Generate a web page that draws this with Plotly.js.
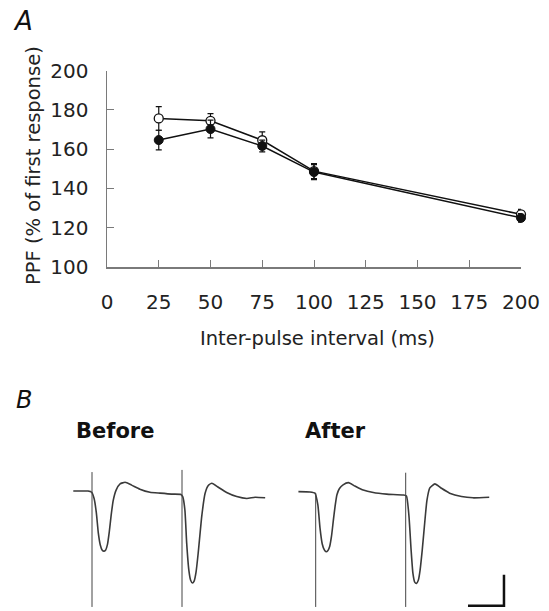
<!DOCTYPE html>
<html>
<head>
<meta charset="utf-8">
<script src="https://cdn.plot.ly/plotly-3.0.1.min.js"></script>
<style>
html,body{margin:0;padding:0;background:#fff;}
#chart{width:549px;height:611px;}
</style>
</head>
<body>
<div id="chart"></div>
<script>
// ---------- Panel A data ----------
const intervals = [25, 50, 75, 100, 200];            // inter-pulse interval (ms)
const openPPF   = [175.6, 174.4, 164.5, 148.8, 126.8]; // open circles (% of first response)
const openErr   = [6.0, 3.7, 4.3, 3.8, 2.5];
const filledPPF = [164.6, 170.2, 161.6, 148.3, 125.0]; // filled circles
const filledErr = [5.0, 4.5, 3.0, 3.8, 2.2];
const xTicks = [0, 25, 50, 75, 100, 125, 150, 175, 200];
const yTicks = [100, 120, 140, 160, 180, 200];

// ---------- Panel B data (time in ms from first stimulus, current in pA) ----------
const beforeT = [-5.2,-3.3,-1.1,-0.1,0.6,1.2,1.75,2.3,2.8,3.3,3.8,4.3,4.8,5.3,5.9,6.7,7.8,9.2,11.0,13.3,16.1,18.9,22.1,24.7,25.2,25.8,26.3,26.9,27.4,27.9,28.4,28.9,29.5,30.5,31.4,32.3,33.3,35.1,37.4,40.2,43.0,45.3,48.1];
const beforeI = [0,0,0,-4,-25,-70,-135,-174,-190,-194,-190,-172,-132,-80,-30,3,23,28,19,6,-4,-7,-10,-11,-18,-61,-168,-255,-288,-297,-290,-262,-200,-80,-8,18,25,12,-5,-18,-24,-20,-22];
const afterT  = [-4.8,-1.6,-0.2,0.6,1.2,1.8,2.4,2.9,3.4,3.9,4.4,4.9,5.4,5.9,6.6,7.6,9.1,10.9,13.2,16.0,19.7,24.3,25.2,25.9,26.5,27.0,27.5,28.0,28.5,29.0,29.6,30.3,30.9,31.7,33.1,34.9,37.2,40.5,43.7,48.2];
const afterI  = [-2,-3,-7,-45,-120,-170,-190,-196,-192,-178,-145,-95,-48,-12,8,20,27,16,3,-5,-10,-13,-16,-80,-190,-265,-294,-298,-288,-255,-190,-100,-30,10,23,9,-7,-18,-22,-20];
const stimTimes = [0, 25];                 // stimulus artefacts (ms)
const beforeStimTop = [61, 68];            // artefact tops (pA)
const afterStimTop  = [-7, 59];
const stimBottom = -374;
const scaleBarMs = 10, scaleBarPA = 100;   // calibration bar

const W = 549, H = 611;
const px = v => v / W, py = v => 1 - v / H;
const FONT = 'DejaVu Sans';
const axisCol = '#7a7a7a';

const traces = [];
// Panel A
traces.push({
  x: intervals, y: openPPF, type: 'scatter', mode: 'lines+markers',
  line: {color: '#111', width: 1.5},
  marker: {symbol: 'circle', size: 9, color: '#fff', line: {color: '#111', width: 1.3}},
  error_y: {type: 'data', array: openErr, visible: true, color: '#111', thickness: 1.2, width: 3},
  xaxis: 'x', yaxis: 'y', cliponaxis: false
});
traces.push({
  x: intervals, y: filledPPF, type: 'scatter', mode: 'lines+markers',
  line: {color: '#111', width: 1.5},
  marker: {symbol: 'circle', size: 9, color: '#111', line: {color: '#111', width: 1}},
  error_y: {type: 'data', array: filledErr, visible: true, color: '#111', thickness: 1.2, width: 3},
  xaxis: 'x', yaxis: 'y', cliponaxis: false
});

// Panel B traces
const traceStyle = {color: '#3a3a3a', width: 1.6};
const stimStyle = {color: '#444', width: 1};
traces.push({x: beforeT, y: beforeI, type: 'scatter', mode: 'lines', line: Object.assign({shape: 'spline', smoothing: 0.5}, traceStyle), xaxis: 'x2', yaxis: 'y2'});
traces.push({x: afterT, y: afterI, type: 'scatter', mode: 'lines', line: Object.assign({shape: 'spline', smoothing: 0.5}, traceStyle), xaxis: 'x3', yaxis: 'y2'});
stimTimes.forEach((t, i) => {
  traces.push({x: [t, t], y: [beforeStimTop[i], stimBottom], type: 'scatter', mode: 'lines', line: stimStyle, xaxis: 'x2', yaxis: 'y2'});
  traces.push({x: [t, t], y: [afterStimTop[i], stimBottom], type: 'scatter', mode: 'lines', line: stimStyle, xaxis: 'x3', yaxis: 'y2'});
});
// calibration bar
const barEnd = 52.3, barBottom = -370;
traces.push({x: [barEnd - scaleBarMs, barEnd, barEnd], y: [barBottom, barBottom, barBottom + scaleBarPA],
  type: 'scatter', mode: 'lines', line: {color: '#111', width: 2.5}, xaxis: 'x3', yaxis: 'y2'});

// Panel B axis ranges (ms, pA), 3.6 px per ms, 0.31 px per pA
const msPerPx = 1 / 3.6, paPerPx = 1 / 0.31;
const bTop = 462, bBot = 611, baseY = 491;
const bx0 = 60, bx1 = 282, ax0 = 284, ax1 = 549;
const stimBeforePx = 92, stimAfterPx = 315.7;

const layout = {
  width: W, height: H,
  margin: {l: 0, r: 0, t: 0, b: 0},
  paper_bgcolor: '#fff', plot_bgcolor: 'rgba(0,0,0,0)',
  showlegend: false,
  font: {family: FONT, color: '#222'},
  xaxis: {
    domain: [px(107), px(521)], range: [0, 200], anchor: 'y',
    tickvals: xTicks, ticktext: xTicks.map(String),
    ticks: 'inside', ticklen: 7, tickwidth: 1, tickcolor: axisCol,
    showline: true, linecolor: axisCol, linewidth: 1.5,
    showgrid: false, zeroline: false,
    tickfont: {family: FONT, size: 20, color: '#222'},
    ticklabelstandoff: 16
  },
  yaxis: {
    domain: [py(267), py(70.5)], range: [100, 200], anchor: 'x',
    tickvals: yTicks, ticktext: yTicks.map(String),
    ticks: 'inside', ticklen: 7, tickwidth: 1, tickcolor: axisCol,
    showline: true, linecolor: axisCol, linewidth: 1.5,
    showgrid: false, zeroline: false,
    tickfont: {family: FONT, size: 20, color: '#222'},
    ticklabelstandoff: 13
  },
  xaxis2: {domain: [px(bx0), px(bx1)], range: [(bx0 - stimBeforePx) * msPerPx, (bx1 - stimBeforePx) * msPerPx], anchor: 'y2', visible: false},
  xaxis3: {domain: [px(ax0), px(ax1)], range: [(ax0 - stimAfterPx) * msPerPx, (ax1 - stimAfterPx) * msPerPx], anchor: 'y2', visible: false},
  yaxis2: {domain: [py(bBot), py(bTop)], range: [(baseY - bBot) * paPerPx, (baseY - bTop) * paPerPx], anchor: 'x2', visible: false},
  annotations: [
    {text: 'PPF (% of first response)', xref: 'paper', yref: 'paper', x: px(33), y: py(166), textangle: -90,
     showarrow: false, xanchor: 'center', yanchor: 'middle', font: {family: FONT, size: 19.5, color: '#222'}},
    {text: 'Inter-pulse interval (ms)', xref: 'paper', yref: 'paper', x: px(317), y: py(338),
     showarrow: false, xanchor: 'center', yanchor: 'middle', font: {family: FONT, size: 19.5, color: '#222'}},
    {text: 'A', xref: 'paper', yref: 'paper', x: px(23), y: py(21), showarrow: false, xanchor: 'center', yanchor: 'middle',
     font: {family: FONT, size: 26, style: 'italic', color: '#111'}},
    {text: 'B', xref: 'paper', yref: 'paper', x: px(24), y: py(400), showarrow: false, xanchor: 'center', yanchor: 'middle',
     font: {family: FONT, size: 24, style: 'italic', color: '#111'}},
    {text: '<b>Before</b>', xref: 'paper', yref: 'paper', x: px(114.5), y: py(431), showarrow: false, xanchor: 'center', yanchor: 'middle',
     font: {family: FONT, size: 21, color: '#111'}},
    {text: '<b>After</b>', xref: 'paper', yref: 'paper', x: px(335), y: py(431), showarrow: false, xanchor: 'center', yanchor: 'middle',
     font: {family: FONT, size: 21, color: '#111'}}
  ]
};

Plotly.newPlot('chart', traces, layout, {staticPlot: true, displayModeBar: false});
</script>
</body>
</html>
